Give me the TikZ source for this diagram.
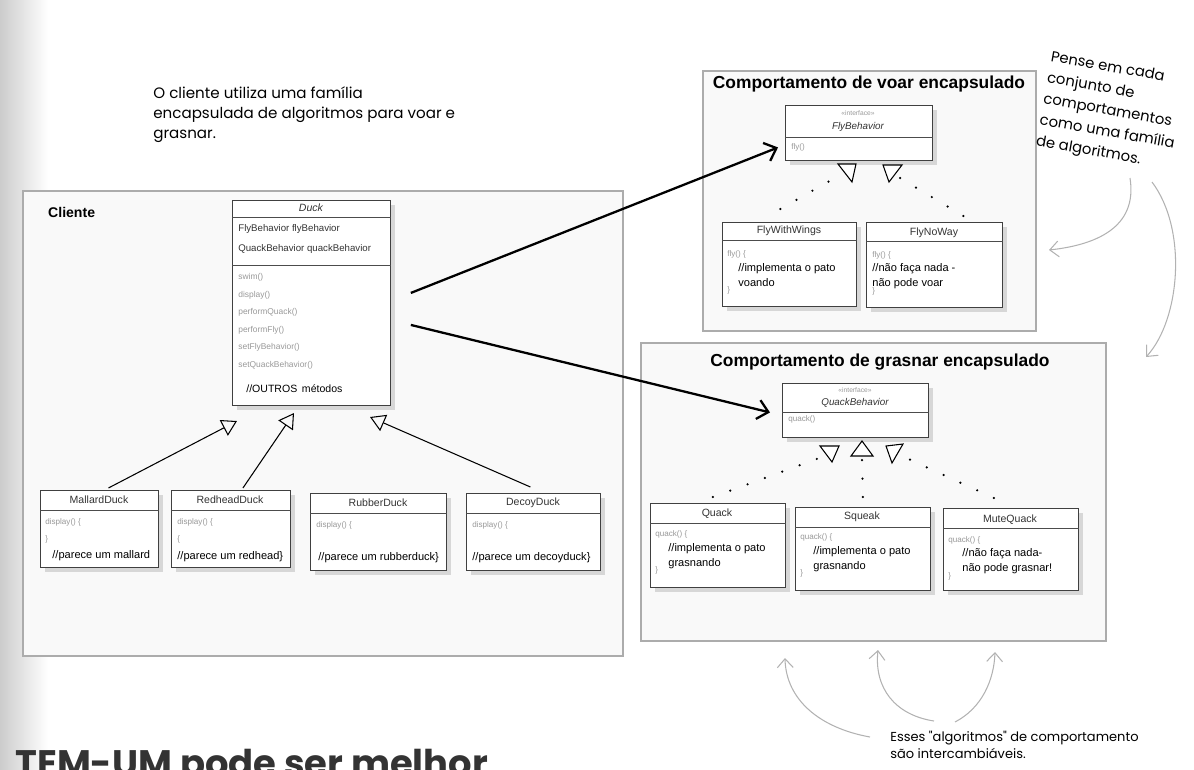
\documentclass[tikz,border=0pt]{standalone}
\usepackage{fontspec}
\setmainfont{Liberation Sans}
\newfontfamily\hand{Poppins}
\usetikzlibrary{arrows.meta,shadows}

\begin{document}
\begin{tikzpicture}[x=0.02cm, y=-0.02cm,
  group/.style={draw=gray!65, line width=1.2pt, fill=gray!5, anchor=north west, inner sep=0pt},
  umlbox/.style={draw=gray!50!black, line width=0.5pt, fill=white, anchor=north west, inner sep=0pt,
    drop shadow={shadow xshift=2.5pt, shadow yshift=-2.5pt, opacity=0.35, fill=gray!80}},
  sep/.style={draw=gray!60!black, line width=0.4pt},
  gtitle/.style={font=\bfseries\fontsize{9.9}{11}\selectfont},
  ctitle/.style={font=\fontsize{6}{7}\selectfont, text=black!80},
  iface/.style={font=\fontsize{3.8}{4}\selectfont, text=gray!80},
  code/.style={font=\fontsize{4.6}{9.6}\selectfont, text=gray!80, anchor=north west, align=left, inner sep=0pt},
  cmt/.style={font=\fontsize{6.3}{8.5}\selectfont, anchor=north west, align=left, inner sep=0pt},
  tri/.style={draw=black, line width=0.6pt, fill=white},
  gen/.style={line width=0.6pt, -{Triangle[open, length=8.5pt, width=10pt]}},
  uses/.style={line width=1.3pt, -{Straight Barb[length=6pt, width=11pt]}},
  dots/.style={line width=1.4pt, line cap=round, dash pattern=on 0pt off 10.5pt},
  note/.style={font=\hand\fontsize{8.6}{11.4}\selectfont, align=left, inner sep=0pt, anchor=north west},
  notearrow/.style={draw=gray!60, line width=0.6pt, -{Straight Barb[length=5pt, width=9pt]}},
]
\useasboundingbox (0,0) rectangle (1194,769);

% Page shadow on the left
\shade[left color=gray!40, right color=white] (0,0) rectangle (48,769);

% The three groups
\node[group, minimum width=12.0cm, minimum height=9.30cm] (cliente) at (22,190) {};
\node[font=\bfseries\fontsize{8}{9}\selectfont, anchor=west] (clienteT) at (42,212) {Cliente};
\node[group, minimum width=6.66cm, minimum height=5.20cm] (voar) at (702,70) {};
\node[gtitle] (voarT) at (869,84) {Comportamento de voar encapsulado};
\node[group, minimum width=9.30cm, minimum height=5.96cm] (grasnar) at (640,342) {};
\node[gtitle] (grasnarT) at (880,362) {Comportamento de grasnar encapsulado};

% Duck
\node[umlbox, minimum width=3.16cm, minimum height=4.10cm] (duck) at (232,200) {};
\node[ctitle, font=\fontsize{6}{7}\selectfont\itshape] (duckT) at (311,208) {Duck};
\draw[sep] ([yshift=-0.34cm]duck.north west) -- ([yshift=-0.34cm]duck.north east);
\node[cmt, font=\fontsize{5.5}{11.3}\selectfont, text=black!80] (duckA) at (238,224) {FlyBehavior flyBehavior\\QuackBehavior quackBehavior};
\draw[sep] ([yshift=-1.30cm]duck.north west) -- ([yshift=-1.30cm]duck.north east);
\node[code, font=\fontsize{4.8}{10}\selectfont] (duckM) at (238,273) {swim()\\display()\\performQuack()\\performFly()\\setFlyBehavior()\\setQuackBehavior()};
\node[cmt, anchor=west, font=\fontsize{6}{7}\selectfont] (duckO) at (246,389) {//OUTROS\, métodos};

% MallardDuck
\node[umlbox, minimum width=2.36cm, minimum height=1.54cm] (mallard) at (40,490) {};
\node[ctitle] (mallardT) at (99,500) {MallardDuck};
\draw[sep] ([yshift=-0.40cm]mallard.north west) -- ([yshift=-0.40cm]mallard.north east);
\node[code] (mallardC) at (45,518) {display() \{\\\}};
\node[cmt] (mallardD) at (52,550) {//parece um mallard};

% RedheadDuck
\node[umlbox, minimum width=2.38cm, minimum height=1.54cm] (redhead) at (171,490) {};
\node[ctitle] (redheadT) at (230,500) {RedheadDuck};
\draw[sep] ([yshift=-0.40cm]redhead.north west) -- ([yshift=-0.40cm]redhead.north east);
\node[code] (redheadC) at (177,518) {display() \{\\\{};
\node[cmt] (redheadD) at (177,551) {//parece um redhead\}};

% RubberDuck
\node[umlbox, minimum width=2.72cm, minimum height=1.54cm] (rubber) at (310,493) {};
\node[ctitle] (rubberT) at (378,503) {RubberDuck};
\draw[sep] ([yshift=-0.40cm]rubber.north west) -- ([yshift=-0.40cm]rubber.north east);
\node[code] (rubberC) at (316,521) {display() \{};
\node[cmt] (rubberD) at (318,552) {//parece um rubberduck\}};

% DecoyDuck
\node[umlbox, minimum width=2.68cm, minimum height=1.54cm] (decoy) at (466,493) {};
\node[ctitle] (decoyT) at (533,503) {DecoyDuck};
\draw[sep] ([yshift=-0.40cm]decoy.north west) -- ([yshift=-0.40cm]decoy.north east);
\node[code] (decoyC) at (472,521) {display() \{};
\node[cmt] (decoyD) at (472,552) {//parece um decoyduck\}};

% Inheritance to Duck
\coordinate (tipM) at (237,421);
\coordinate (tipR) at (294,413);
\coordinate (tipD) at (370,417);
\draw[gen] (mallard.north) ++(9,-2) -- (tipM);
\draw[gen] (redhead.north) ++(12,-2) -- (tipR);
\draw[gen] (decoy.north) ++(-3,-6) -- (tipD);

% FlyBehavior
\node[umlbox, minimum width=2.94cm, minimum height=1.10cm] (flyif) at (785,105) {};
\node[iface] (flyifS) at (858,113) {<<interface>>};
\node[ctitle, font=\fontsize{5.6}{7}\selectfont\itshape] (flyifT) at (858,127) {FlyBehavior};
\draw[sep] ([yshift=-0.64cm]flyif.north west) -- ([yshift=-0.64cm]flyif.north east);
\node[code] (flyifC) at (791,143) {fly()};

% FlyWithWings
\node[umlbox, minimum width=2.68cm, minimum height=1.68cm] (flywings) at (722,222) {};
\node[ctitle] (flywingsT) at (789,231) {FlyWithWings};
\draw[sep] ([yshift=-0.36cm]flywings.north west) -- ([yshift=-0.36cm]flywings.north east);
\node[code] (flywingsC) at (727,250) {fly() \{};
\node[cmt] (flywingsD) at (738,263) {//implementa o pato\\voando};
\node[code] (flywingsE) at (727,286) {\}};

% FlyNoWay
\node[umlbox, minimum width=2.72cm, minimum height=1.70cm] (flynoway) at (866,222) {};
\node[ctitle] (flynowayT) at (934,233) {FlyNoWay};
\draw[sep] ([yshift=-0.38cm]flynoway.north west) -- ([yshift=-0.38cm]flynoway.north east);
\node[code] (flynowayC) at (872,251) {fly() \{};
\node[cmt] (flynowayD) at (872,263) {//não faça nada -\\não pode voar};
\node[code] (flynowayE) at (872,287) {\}};

% Triangles and dots under FlyBehavior
\draw[tri] (838,164) -- (856,164) -- (852,182) -- cycle;
\draw[tri] (883,165) -- (902,165) -- (889,182) -- cycle;
\coordinate (fdotA) at (840,175);
\coordinate (fdotB) at (900,178);
\draw[dots] (flywings.north) ++(-9,-13) -- (fdotA);
\draw[dots] (flynoway.north) ++(29,-6) -- (fdotB);

% QuackBehavior
\node[umlbox, minimum width=2.92cm, minimum height=1.08cm] (quackif) at (782,383) {};
\node[iface] (quackifS) at (855,390) {<<interface>>};
\node[ctitle, font=\fontsize{5.6}{7}\selectfont\itshape] (quackifT) at (855,403) {QuackBehavior};
\draw[sep] ([yshift=-0.58cm]quackif.north west) -- ([yshift=-0.58cm]quackif.north east);
\node[code] (quackifC) at (788,415) {quack()};

% Quack
\node[umlbox, minimum width=2.70cm, minimum height=1.68cm] (quack) at (650,503) {};
\node[ctitle] (quackT) at (717,514) {Quack};
\draw[sep] ([yshift=-0.40cm]quack.north west) -- ([yshift=-0.40cm]quack.north east);
\node[code] (quackC) at (655,530) {quack() \{};
\node[cmt] (quackD) at (668,543) {//implementa o pato\\grasnando};
\node[code] (quackE) at (655,566) {\}};

% Squeak
\node[umlbox, minimum width=2.70cm, minimum height=1.66cm] (squeak) at (795,507) {};
\node[ctitle] (squeakT) at (862,517) {Squeak};
\draw[sep] ([yshift=-0.40cm]squeak.north west) -- ([yshift=-0.40cm]squeak.north east);
\node[code] (squeakC) at (800,533) {quack() \{};
\node[cmt] (squeakD) at (813,546) {//implementa o pato\\grasnando};
\node[code] (squeakE) at (800,569) {\}};

% MuteQuack
\node[umlbox, minimum width=2.70cm, minimum height=1.64cm] (mutequack) at (943,508) {};
\node[ctitle] (mutequackT) at (1010,520) {MuteQuack};
\draw[sep] ([yshift=-0.40cm]mutequack.north west) -- ([yshift=-0.40cm]mutequack.north east);
\node[code] (mutequackC) at (948,536) {quack() \{};
\node[cmt] (mutequackD) at (962,548) {//não faça nada-\\não pode grasnar!};
\node[code] (mutequackE) at (948,572) {\}};

% Triangles and dots under QuackBehavior
\draw[tri] (820,446) -- (839,446) -- (832,462) -- cycle;
\draw[tri] (851,456) -- (873,456) -- (862,441) -- cycle;
\draw[tri] (886,446) -- (903,444) -- (892,463) -- cycle;
\coordinate (qdotA) at (822,457);
\coordinate (qdotB) at (862,459);
\coordinate (qdotC) at (902,456);
\draw[dots] (quack.north) ++(-5,-6) -- (qdotA);
\draw[dots] (squeak.north) ++(0,-10) -- (qdotB);
\draw[dots] (mutequack.north) ++(-17,-10) -- (qdotC);

% Duck uses the behaviors
\draw[uses] (duck.east) ++(20,-10) -- ([xshift=-0.14cm,yshift=-0.29cm]flyif.west);
\draw[uses] (duck.east) ++(20,22) -- ([xshift=-0.24cm,yshift=-0.04cm]quackif.west);

% Notes
\node[note] (clienteN) at (153,86) {O cliente utiliza uma família\\encapsulada de algoritmos para voar e\\grasnar.};
\node[note, rotate=-10, font=\hand\fontsize{8.4}{12.2}\selectfont] (penseN) at (1052,50) {Pense em cada\\conjunto de\\comportamentos\\como uma família\\de algoritmos.};
\node[note, font=\hand\fontsize{7.4}{9.6}\selectfont] (essesN) at (890,731) {Esses "algoritmos" de comportamento\\são intercambiáveis.};
\node[anchor=base west, inner sep=0pt, font=\hand\bfseries\fontsize{21}{24}\selectfont, text=black!80] (temumN) at (15,776) {TEM-UM pode ser melhor};

% Note arrows
\coordinate (pA) at (1130,178);
\coordinate (pAend) at (1049,250);
\coordinate (pB) at (1152,182);
\coordinate (pBend) at (1146,357);
\draw[notearrow] (pA) .. controls (1138,228) and (1095,245) .. (pAend);
\draw[notearrow] (pB) .. controls (1188,230) and (1180,320) .. (pBend);
\coordinate (eA) at (870,737);
\coordinate (eAend) at (785,658);
\coordinate (eB) at (934,721);
\coordinate (eBend) at (878,650);
\coordinate (eC) at (955,722);
\coordinate (eCend) at (995,652);
\draw[notearrow] (eA) .. controls (820,728) and (786,700) .. (eAend);
\draw[notearrow] (eB) .. controls (895,715) and (874,688) .. (eBend);
\draw[notearrow] (eC) .. controls (982,708) and (994,680) .. (eCend);
\end{tikzpicture}
\end{document}
